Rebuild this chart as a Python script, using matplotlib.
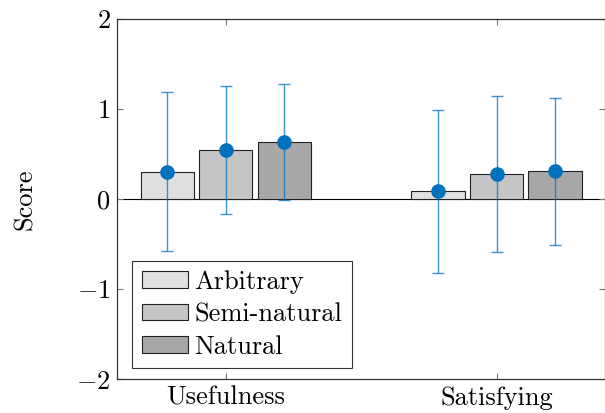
import numpy as np
import matplotlib.pyplot as plt

# =========================
# DATA
# =========================
categories = ["Usefulness", "Satisfying"]
series = ["Arbitrary", "Semi-natural", "Natural"]

means = {
    "Arbitrary":    [0.30, 0.085],
    "Semi-natural": [0.545, 0.28],
    "Natural":      [0.635, 0.307],
}
err_low = {
    "Arbitrary":    [-0.58, -0.82],
    "Semi-natural": [-0.165, -0.593],
    "Natural":      [-0.008, -0.508],
}
err_high = {
    "Arbitrary":    [1.185, 0.99],
    "Semi-natural": [1.255, 1.148],
    "Natural":      [1.278, 1.118],
}

bar_colors = ["#e0e0e0", "#c6c6c6", "#a8a8a8"]
dot_color = "#0072BD"

# =========================
# STYLE
# =========================
plt.rcParams["font.family"] = "cmr10"
plt.rcParams["mathtext.fontset"] = "cm"
plt.rcParams["axes.formatter.use_mathtext"] = True
plt.rcParams["font.size"] = 19

fig = plt.figure(figsize=(6.05, 4.13), dpi=100)
ax = fig.add_axes([0.194, 0.082, 0.806, 0.872])

x = np.arange(len(categories))
width = 0.197
offset = 0.216

for i, s in enumerate(series):
    xs = x + (i - 1) * offset
    m = np.array(means[s])
    lo = m - np.array(err_low[s])
    hi = np.array(err_high[s]) - m
    ax.bar(xs, m, width=width, color=bar_colors[i], edgecolor="#222222",
           linewidth=0.8, label=s, zorder=2)
    ax.errorbar(xs, m, yerr=[lo, hi], fmt="none", ecolor=dot_color,
                elinewidth=1.0, capsize=4.5, capthick=1.0, alpha=0.75, zorder=3)
    ax.plot(xs, m, "o", color=dot_color, markersize=9.5, zorder=4)

ax.axhline(0, color="black", linewidth=0.8, zorder=1)

ax.set_xlim(-0.40, 1.40)
ax.set_ylim(-2, 2)
ax.set_yticks([-2, -1, 0, 1, 2])
ax.set_xticks(x)
ax.set_xticklabels(categories)
ax.set_ylabel("Score", labelpad=28)

ax.tick_params(direction="in", length=4, color="#777777", top=True, right=True,
               pad=5)
for sp in ax.spines.values():
    sp.set_linewidth(0.9)
    sp.set_color("#333333")

leg = ax.legend(loc="lower left", bbox_to_anchor=(0.031, 0.031),
                fancybox=False, edgecolor="#333333",
                framealpha=1, handlelength=1.75, handleheight=0.6,
                borderaxespad=0, labelspacing=0.33, handletextpad=0.25,
                borderpad=0.35)
leg.get_frame().set_linewidth(0.8)

fig.savefig("out.png", dpi=100)
